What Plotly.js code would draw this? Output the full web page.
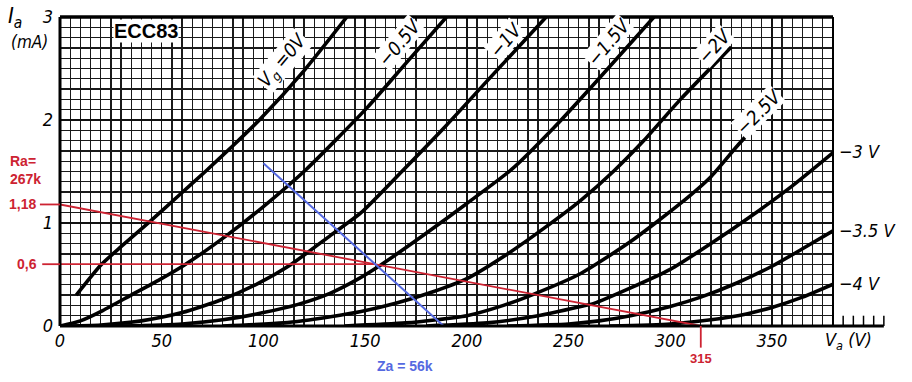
<!DOCTYPE html>
<html><head><meta charset="utf-8">
<script src="https://cdn.plot.ly/plotly-3.0.1.min.js"></script>
<style>html,body{margin:0;padding:0;background:#fff}</style>
</head><body>
<div id="chart" style="width:912px;height:382px"></div>
<script>
// Anode characteristics of ECC83 (Va in V, Ia in mA), one pair per grid voltage
const gridLabels = ['V<sub>g</sub> =0V', '−0.5V', '−1V', '−1.5V', '−2V', '−2.5V', '−3 V', '−3.5 V', '−4 V'];
const vaG0   = [8, 20, 30, 44, 58, 72, 85, 98, 120, 141];
const iaG0   = [0.30, 0.59, 0.77, 1.01, 1.26, 1.51, 1.75, 2.0, 2.48, 3.0];
const vaG05  = [0, 10, 21, 35, 49, 61, 82, 100, 121, 151, 170, 190];
const iaG05  = [0, 0.05, 0.15, 0.30, 0.45, 0.59, 0.88, 1.16, 1.52, 2.12, 2.55, 3.0];
const vaG1   = [0, 20, 40, 60, 80, 97, 113, 133, 148, 169, 190, 210, 239];
const iaG1   = [0, 0.01, 0.05, 0.13, 0.26, 0.41, 0.59, 0.88, 1.10, 1.52, 1.95, 2.38, 3.0];
const vaG15  = [30, 60, 80, 100, 117, 133, 146, 157.5, 180, 200, 222, 243, 263, 292];
const iaG15  = [0, 0.02, 0.06, 0.13, 0.21, 0.32, 0.45, 0.59, 0.90, 1.19, 1.52, 1.93, 2.36, 3.0];
const vaG2   = [80, 110, 133, 148, 165, 183, 200, 220, 238, 256, 272, 287, 305, 330];
const iaG2   = [0, 0.03, 0.09, 0.14, 0.22, 0.33, 0.46, 0.70, 0.95, 1.22, 1.50, 1.80, 2.20, 2.71];
const vaG25  = [140, 170, 200, 218, 233, 256, 280.5, 305, 320, 333, 354];
const iaG25  = [0, 0.03, 0.10, 0.20, 0.31, 0.51, 0.82, 1.19, 1.45, 1.75, 2.20];
const vaG3   = [180, 210, 235, 256, 262.5, 280.5, 300, 320, 340, 360, 380.5];
const iaG3   = [0, 0.03, 0.10, 0.19, 0.22, 0.37, 0.55, 0.80, 1.07, 1.36, 1.69];
const vaG35  = [220, 250, 265, 280.5, 300, 315, 333, 350, 365, 380.5];
const iaG35  = [0, 0.02, 0.05, 0.10, 0.19, 0.28, 0.42, 0.58, 0.75, 0.93];
const vaG4   = [270, 300, 320, 338, 350, 365, 380.5];
const iaG4   = [0, 0.02, 0.06, 0.12, 0.18, 0.28, 0.41];

// Load lines
const loadVa = [0, 315];       // Ra = 267k
const loadIa = [1.18, 0];
const qVa = [0, 155];          // quiescent current line
const qIa = [0.6, 0.6];
const acVa = [100, 188.6];     // Za = 56k
const acIa = [1.58, 0];

const xTicks = [0, 50, 100, 150, 200, 250, 300, 350];
const yTicks = [0, 1, 2, 3];
const extraTicks = [385, 390, 395, 400, 405];

const XMAX = 380;
const font = 'Liberation Sans Narrow, DejaVu Sans Condensed, Arial Narrow, sans-serif';
const sans = 'Liberation Sans, Arial, sans-serif';
const red = 'rgb(205,35,50)';
const blue = 'rgb(85,105,225)';

const curves = [[vaG0, iaG0], [vaG05, iaG05], [vaG1, iaG1], [vaG15, iaG15], [vaG2, iaG2],
                [vaG25, iaG25], [vaG3, iaG3], [vaG35, iaG35], [vaG4, iaG4]];
const traces = curves.map((c, i) => ({
  x: c[0], y: c[1], type: 'scatter', mode: 'lines', name: gridLabels[i],
  line: {color: '#000', width: 3.6, shape: 'spline', smoothing: 0.6}, hoverinfo: 'skip'
}));
traces.push({x: loadVa, y: loadIa, mode: 'lines', line: {color: red, width: 1.8}, hoverinfo: 'skip'});
traces.push({x: qVa, y: qIa, mode: 'lines', line: {color: red, width: 1.8}, hoverinfo: 'skip'});
traces.push({x: acVa, y: acIa, mode: 'lines', line: {color: blue, width: 2}, hoverinfo: 'skip'});

const shapes = [
  {type: 'line', xref: 'paper', yref: 'paper', x0: 0, x1: 0, y0: 0, y1: 1, line: {color: '#000', width: 3}},
  {type: 'line', xref: 'paper', yref: 'paper', x0: 0, x1: 1, y0: 1, y1: 1, line: {color: '#000', width: 3.5}},
  {type: 'line', xref: 'paper', yref: 'paper', x0: 1, x1: 1, y0: 0, y1: 1, line: {color: '#000', width: 2}},
  {type: 'line', xref: 'paper', yref: 'paper', x0: 0, x1: extraTicks[extraTicks.length - 1] / XMAX, y0: 0, y1: 0, line: {color: '#000', width: 3}},
  // red leader lines
  {type: 'line', xref: 'paper', yref: 'y', x0: -0.026, x1: 0, y0: loadIa[0], y1: loadIa[0], line: {color: red, width: 1.8}},
  {type: 'line', xref: 'paper', yref: 'y', x0: -0.023, x1: 0, y0: qIa[0], y1: qIa[0], line: {color: red, width: 1.8}},
  {type: 'line', xref: 'x', yref: 'paper', x0: loadVa[1], x1: loadVa[1], y0: 0, y1: -0.07, line: {color: red, width: 1.8}}
];
extraTicks.forEach(v => shapes.push({type: 'line', xref: 'paper', yref: 'y', x0: v / XMAX, x1: v / XMAX, y0: 0, y1: 0.1, line: {color: '#000', width: 1.5}}));

const lblFont = {family: font, size: 19, color: '#000', style: 'italic'};
const rightFont = {family: font, size: 18, color: '#000', style: 'italic'};
const C = {showarrow: false, xanchor: 'center', yanchor: 'middle'};
const ann = [
  Object.assign({xref: 'x', yref: 'y', x: 42.5, y: 2.86, text: '<b>ECC83</b>', bgcolor: '#fff',
   font: {family: sans, size: 20, color: '#000'}, borderpad: 0}, C),
  Object.assign({xref: 'x', yref: 'y', x: 109.6, y: 2.58, text: gridLabels[0], textangle: -50, bgcolor: '#fff', font: lblFont, borderpad: 0}, C),
  Object.assign({xref: 'x', yref: 'y', x: 166.5, y: 2.75, text: gridLabels[1], textangle: -50, bgcolor: '#fff', font: lblFont, borderpad: 0}, C),
  Object.assign({xref: 'x', yref: 'y', x: 218.8, y: 2.78, text: gridLabels[2], textangle: -50, bgcolor: '#fff', font: lblFont, borderpad: 0}, C),
  Object.assign({xref: 'x', yref: 'y', x: 269.5, y: 2.76, text: gridLabels[3], textangle: -50, bgcolor: '#fff', font: lblFont, borderpad: 0}, C),
  Object.assign({xref: 'x', yref: 'y', x: 321.5, y: 2.72, text: gridLabels[4], textangle: -48, bgcolor: '#fff', font: lblFont, borderpad: 0}, C),
  Object.assign({xref: 'x', yref: 'y', x: 343.2, y: 2.08, text: gridLabels[5], textangle: -45, bgcolor: '#fff', font: lblFont, borderpad: 0}, C),
  {xref: 'paper', yref: 'y', x: 1.005, xanchor: 'left', yanchor: 'middle', y: iaG3[iaG3.length - 1], text: gridLabels[6], showarrow: false, font: rightFont},
  {xref: 'paper', yref: 'y', x: 1.005, xanchor: 'left', yanchor: 'middle', y: iaG35[iaG35.length - 1], text: gridLabels[7], showarrow: false, font: rightFont},
  {xref: 'paper', yref: 'y', x: 1.005, xanchor: 'left', yanchor: 'middle', y: iaG4[iaG4.length - 1], text: gridLabels[8], showarrow: false, font: rightFont},
  Object.assign({xref: 'paper', yref: 'paper', x: -0.058, y: 1.0, text: 'I<sub>a</sub>', font: {family: font, size: 22, color: '#000', style: 'italic'}}, C),
  Object.assign({xref: 'paper', yref: 'paper', x: -0.039, y: 0.918, text: '(mA)', font: {family: font, size: 17, color: '#000', style: 'italic'}}, C),
  Object.assign({xref: 'paper', yref: 'paper', x: 1.02, y: -0.05, text: 'V<sub>a</sub> (V)', font: {family: font, size: 18, color: '#000', style: 'italic'}}, C),
  Object.assign({xref: 'paper', yref: 'paper', x: -0.044, y: 0.505, text: '<b>Ra=<br>267k</b>', align: 'left',
   font: {family: sans, size: 14, color: red}}, C),
  {xref: 'paper', yref: 'y', x: -0.029, xanchor: 'right', yanchor: 'middle', y: loadIa[0], text: '<b>1,18</b>', showarrow: false,
   font: {family: sans, size: 14, color: red}},
  {xref: 'paper', yref: 'y', x: -0.027, xanchor: 'right', yanchor: 'middle', y: qIa[0], text: '<b>0,6</b>', showarrow: false,
   font: {family: sans, size: 14, color: red}},
  Object.assign({xref: 'x', yref: 'paper', x: loadVa[1], y: -0.105, text: '<b>315</b>',
   font: {family: sans, size: 13, color: red}}, C),
  Object.assign({xref: 'x', yref: 'paper', x: 169.6, y: -0.13, text: '<b>Za = 56k</b>',
   font: {family: sans, size: 14, color: blue}}, C)
];

const layout = {
  width: 912, height: 382,
  margin: {l: 60, r: 79, t: 17, b: 56},
  paper_bgcolor: '#fff', plot_bgcolor: '#fff',
  showlegend: false, hovermode: false,
  xaxis: {
    range: [0, XMAX], tickvals: xTicks, ticktext: xTicks.map(String),
    showgrid: true, gridcolor: '#111', gridwidth: 1.5,
    minor: {dtick: 5, tick0: 0, showgrid: true, gridcolor: '#1a1a1a', gridwidth: 1.3},
    zeroline: false, showline: false, ticks: '', ticklabelstandoff: 2,
    tickfont: {family: font, size: 18, color: '#000', style: 'italic'}, fixedrange: true
  },
  yaxis: {
    range: [0, 3], tickvals: yTicks, ticktext: yTicks.map(String),
    showgrid: true, gridcolor: '#111', gridwidth: 1.5,
    minor: {dtick: 0.1, tick0: 0, showgrid: true, gridcolor: '#1a1a1a', gridwidth: 1.3},
    zeroline: false, showline: false, ticks: '', ticklabelstandoff: 6,
    tickfont: {family: font, size: 18, color: '#000', style: 'italic'}, fixedrange: true
  },
  shapes: shapes,
  annotations: ann
};

Plotly.newPlot('chart', traces, layout, {displayModeBar: false, staticPlot: true});
</script>
</body></html>
